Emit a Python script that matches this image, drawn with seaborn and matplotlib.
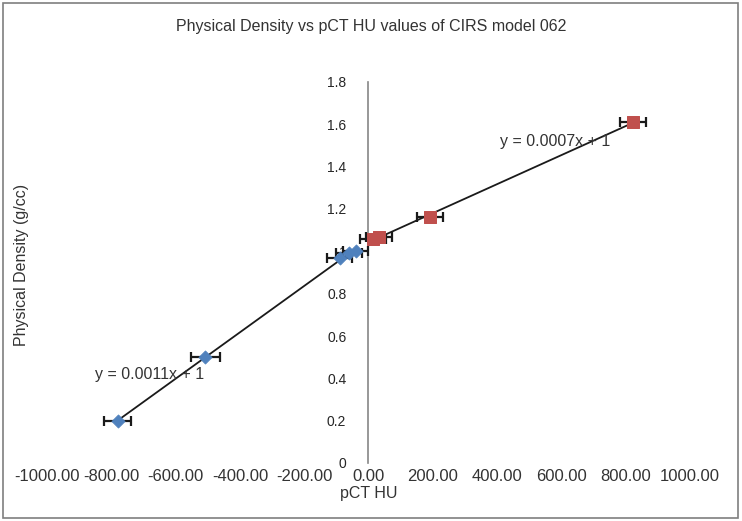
import numpy as np
import pandas as pd
import matplotlib
matplotlib.use('Agg')
import matplotlib.pyplot as plt
import seaborn as sns
from matplotlib.patches import Rectangle

# Valeurs
blue_hu = [-780, -507, -90, -60, -40]
blue_density = [0.20, 0.50, 0.97, 0.99, 1.00]
blue_err = [42, 45, 40, 40, 40]

red_hu = [15, 32, 192, 822]
red_density = [1.06, 1.07, 1.16, 1.61]
red_err = [40, 40, 40, 40]

x_ticks = [-1000, -800, -600, -400, -200, 0, 200, 400, 600, 800, 1000]
y_ticks = [0, 0.2, 0.4, 0.6, 0.8, 1.0, 1.2, 1.4, 1.6, 1.8]

blue = pd.DataFrame({'hu': blue_hu, 'density': blue_density, 'err': blue_err})
red = pd.DataFrame({'hu': red_hu, 'density': red_density, 'err': red_err})

sns.set_style('white')
plt.rcParams['font.family'] = ['Liberation Sans', 'DejaVu Sans']
text_col = '#333333'

fig = plt.figure(figsize=(7.42, 5.21), dpi=100)
ax = fig.add_axes([47 / 742, 1 - 463 / 521, 643 / 742, 381 / 521])

# Droites de tendance
sns.regplot(data=blue, x='hu', y='density', ax=ax, scatter=False, ci=None,
            truncate=True, line_kws={'color': '#1a1a1a', 'lw': 1.3})
sns.regplot(data=red, x='hu', y='density', ax=ax, scatter=False, ci=None,
            truncate=True, line_kws={'color': '#1a1a1a', 'lw': 1.3})

# Barres d'erreur
ax.errorbar(blue['hu'], blue['density'], xerr=blue['err'], fmt='none',
            ecolor='#1a1a1a', elinewidth=1.6, capsize=3.5, capthick=1.6, zorder=3)
ax.errorbar(red['hu'], red['density'], xerr=red['err'], fmt='none',
            ecolor='#1a1a1a', elinewidth=1.6, capsize=3.5, capthick=1.6, zorder=3)

# Points
sns.scatterplot(data=blue, x='hu', y='density', ax=ax, marker='D', s=45,
                color='#4F81BD', edgecolor='#4F81BD', zorder=4)
sns.scatterplot(data=red, x='hu', y='density', ax=ax, marker='s', s=80,
                color='#C0504D', edgecolor='#C0504D', zorder=4)

ax.text(-850, 0.42, 'y = 0.0011x + 1', fontsize=11.5, color=text_col, va='center')
ax.text(410, 1.52, 'y = 0.0007x + 1', fontsize=11.5, color=text_col, va='center')

ax.set_xlim(-1000, 1000)
ax.set_ylim(0, 1.8)
ax.set_xticks(x_ticks)
ax.set_xticklabels(['%.2f' % v for v in x_ticks], fontsize=12, color=text_col)
ax.set_yticks(y_ticks)
ax.set_yticklabels(['%g' % v for v in y_ticks], fontsize=11, color=text_col)

# Axe vertical au zero, pas de ligne horizontale
for s in ['top', 'right', 'bottom']:
    ax.spines[s].set_visible(False)
ax.spines['left'].set_position(('data', 0))
ax.spines['left'].set_color('#868686')
ax.spines['left'].set_linewidth(1.2)
ax.tick_params(axis='y', direction='out', length=5, width=1.2, color='#868686', pad=11)
ax.tick_params(axis='x', length=0, pad=4)
ax.patch.set_alpha(0)

ax.set_xlabel('pCT HU', fontsize=11.5, color=text_col, labelpad=2)
ax.set_ylabel('')
fig.text(22 / 742, 1 - 265 / 521, 'Physical Density (g/cc)', rotation=90,
         fontsize=11.5, color=text_col, ha='center', va='center')
fig.text(0.5, 1 - 27 / 521, 'Physical Density vs pCT HU values of CIRS model 062',
         fontsize=11.5, color=text_col, ha='center', va='center')

fig.patches.append(Rectangle((3 / 742, 3 / 521), 735 / 742, 515 / 521, transform=fig.transFigure,
                             fill=False, edgecolor='#7f7f7f', lw=1.2))

fig.savefig('out.png', dpi=100)
